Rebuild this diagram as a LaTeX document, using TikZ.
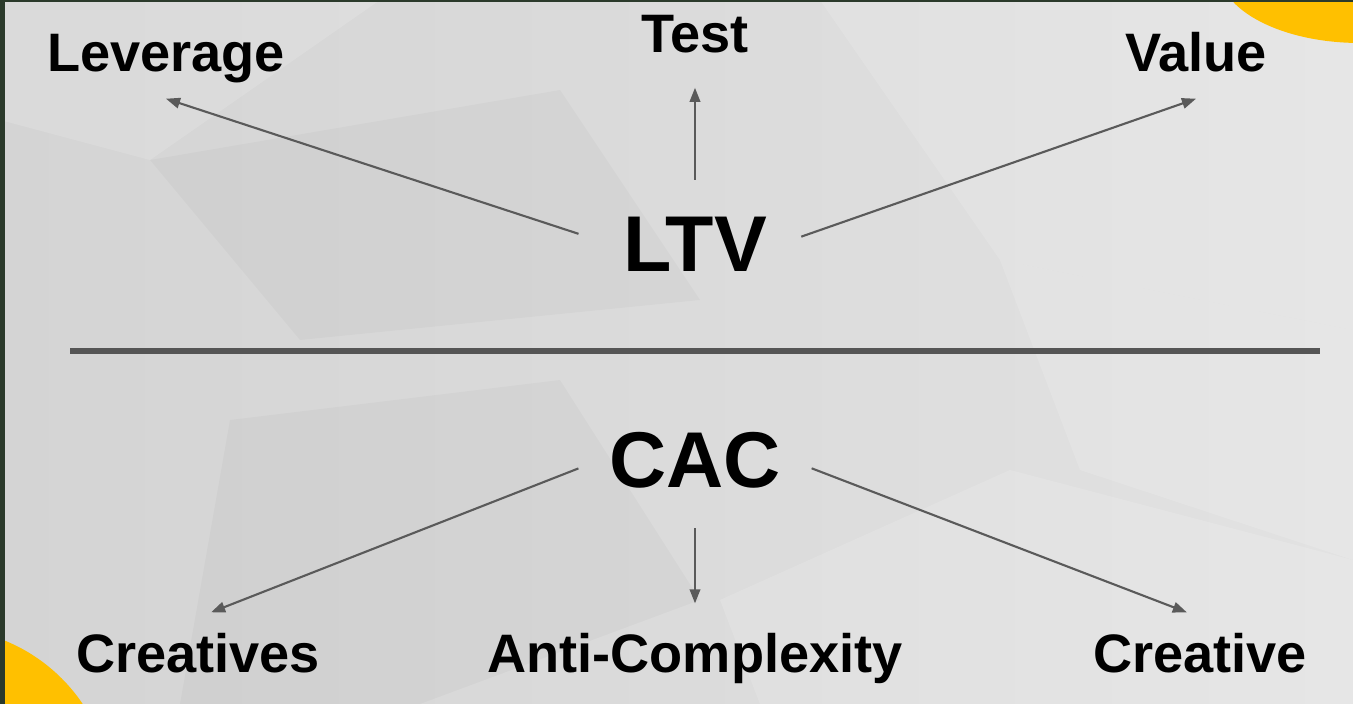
\documentclass[tikz,border=0pt]{standalone}
\usepackage{fontspec}
\setmainfont{Liberation Sans}
\usetikzlibrary{arrows.meta}
\definecolor{bgleft}{HTML}{D4D4D4}
\definecolor{bgright}{HTML}{E2E2E2}
\definecolor{edgecol}{HTML}{2B3A2B}
\definecolor{sunny}{HTML}{FFC000}
\definecolor{arrowcol}{HTML}{5A5A5A}
\definecolor{rulecol}{HTML}{555555}
\tikzset{
  lbl/.style={font=\fontsize{15.4}{18}\selectfont\bfseries, text=black,
              text height=11.6pt, text depth=3.4pt, inner sep=4pt, anchor=base},
  metric/.style={font=\fontsize{22.5}{26}\selectfont\bfseries, text=black,
                 inner sep=3pt, anchor=base},
  link/.style={-{Triangle[length=4pt,width=3pt]}, line width=0.6pt, arrowcol,
               shorten <=8pt, shorten >=3pt},
  facet/.style={fill=white, opacity=0.14, draw=none},
  shadefacet/.style={fill=black, opacity=0.025, draw=none},
}

\begin{document}
\begin{tikzpicture}[x=0.01cm, y=-0.01cm]
  \useasboundingbox (0,0) rectangle (1353,704);
  % background
  \begin{scope}
    \clip (0,0) rectangle (1353,704);
    \shade[left color=bgleft, right color=bgright] (0,0) rectangle (1353,704);
    \fill[facet] (820,0) -- (1353,0) -- (1353,330) -- (1000,260) -- cycle;
    \fill[facet] (1000,260) -- (1353,330) -- (1353,560) -- (1080,470) -- cycle;
    \fill[facet] (720,600) -- (1010,470) -- (1353,560) -- (1353,704) -- (760,704) -- cycle;
    \fill[facet] (0,0) -- (380,0) -- (150,160) -- (0,120) -- cycle;
    \fill[shadefacet] (150,160) -- (560,90) -- (700,300) -- (300,340) -- cycle;
    \fill[shadefacet] (230,420) -- (560,380) -- (700,600) -- (420,704) -- (180,704) -- cycle;
    \fill[sunny] (1360,-30) ellipse [x radius=141, y radius=73];
    \fill[sunny] (-60,800) circle (172);
    \fill[edgecol] (0,0) rectangle (5,704);
    \fill[edgecol] (0,0) rectangle (1353,2);
  \end{scope}

  \node[metric] (ltv) at (695,272) {LTV};
  \node[metric] (cac) at (695,488) {CAC};
  \node[lbl] (lev) at (166,72) {Leverage};
  \node[lbl] (test) at (695,53) {Test};
  \node[lbl] (val) at (1196,72) {Value};
  \node[lbl] (cres) at (198,673) {Creatives};
  \node[lbl] (anti) at (695,673) {Anti-Complexity};
  \node[lbl] (cre) at (1200,673) {Creative};

  \draw[rulecol, line width=1.8pt] (70,351) -- (1320,351);

  \draw[link, shorten <=10pt, shorten >=0pt] (ltv.west) -- (lev.south);
  \draw[link, shorten <=7.5pt, shorten >=2.3pt] (ltv.north) -- (test.south);
  \draw[link, shorten <=7pt, shorten >=0pt] (ltv.east) -- (val.south);
  \draw[link, shorten <=6pt, shorten >=4pt] (cac.west) -- (cres.north);
  \draw[link, shorten <=8pt, shorten >=4pt] (cac.south) -- (anti.north);
  \draw[link, shorten <=6pt, shorten >=4pt] (cac.east) -- (cre.north);
\end{tikzpicture}
\end{document}
